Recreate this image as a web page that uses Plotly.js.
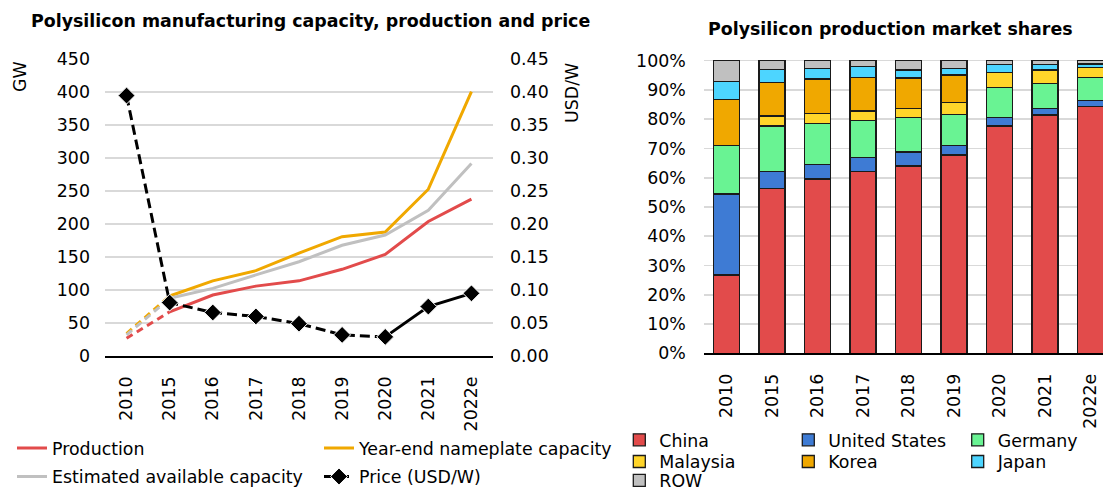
<!DOCTYPE html>
<html><head><meta charset="utf-8">
<script src="https://cdn.plot.ly/plotly-3.0.1.min.js"></script>
<style>html,body{margin:0;padding:0;background:#fff}#chart{width:1103px;height:490px}</style>
</head><body><div id="chart"></div>
<script>
// ---- data ----
const years = ['2010','2015','2016','2017','2018','2019','2020','2021','2022e'];
const production = [27, 67, 92.5, 106, 114, 131.5, 154, 204, 238];
const nameplateCapacity = [34, 91, 114, 129.5, 156, 181, 188, 253, 401];
const estimatedCapacity = [32, 87.5, 102.5, 123, 143, 168, 183.5, 221, 292];
const price = [0.395, 0.081, 0.066, 0.060, 0.049, 0.032, 0.029, 0.075, 0.095];

const shareChina    = [26.8, 56.2, 59.6, 62.2, 64.0, 67.8, 77.7, 81.4, 84.3];
const shareUS       = [27.6, 6.0, 4.9, 4.7, 4.8, 3.3, 2.9, 2.3, 2.0];
const shareGermany  = [16.7, 15.5, 14.0, 12.6, 11.8, 10.6, 10.2, 8.6, 7.9];
const shareMalaysia = [0, 3.4, 3.4, 3.3, 3.0, 4.1, 5.1, 4.5, 3.4];
const shareKorea    = [15.7, 11.5, 11.8, 11.4, 10.5, 9.3, 0, 0, 0];
const shareJapan    = [6.1, 4.4, 3.7, 3.7, 2.7, 2.3, 2.7, 2.0, 1.3];
const shareROW      = [7.1, 3.0, 2.6, 2.1, 3.2, 2.6, 1.4, 1.2, 1.1];

// ---- styling ----
const W = 1103, H = 490;
const FONT = 'DejaVu Sans, Arial, sans-serif';
const FS = 17.4;
const C = {red:'#E24B4B', orange:'#F0A800', gray:'#C0C0C0', black:'#000000',
  blue:'#3E7BD4', green:'#69F393', yellow:'#FFD52A', cyan:'#4DD5FF'};
const px = v => v / W;
const py = v => (H - v) / H;

const traces = [];
function lineSeries(name, vals, color, legendId) {
  traces.push({type:'scatter', mode:'lines', x: years.slice(0,2), y: vals.slice(0,2),
    xaxis:'x', yaxis:'y', line:{color:color, width:3, dash:'7px,5px'}, name:name,
    showlegend:false, hoverinfo:'skip'});
  traces.push({type:'scatter', mode:'lines', x: years.slice(1), y: vals.slice(1),
    xaxis:'x', yaxis:'y', line:{color:color, width:3}, name:name, legend:legendId});
}
lineSeries('Production', production, C.red, 'legend');
lineSeries('Year-end nameplate capacity', nameplateCapacity, C.orange, 'legend2');
lineSeries('Estimated available capacity', estimatedCapacity, C.gray, 'legend3');

const diamond = {symbol:'diamond', size:13, color:C.black, line:{color:'#ffffff', width:1}};
traces.push({type:'scatter', mode:'lines+markers', x: years.slice(0,7), y: price.slice(0,7),
  xaxis:'x', yaxis:'y2', line:{color:C.black, width:3, dash:'10px,5px'}, marker:diamond,
  name:'Price (USD/W)', legend:'legend4'});
traces.push({type:'scatter', mode:'lines+markers', x: years.slice(6), y: price.slice(6),
  xaxis:'x', yaxis:'y2', line:{color:C.black, width:3}, marker:diamond,
  name:'Price (USD/W)', showlegend:false});

const barSeries = [
  ['China', shareChina, C.red, 'legend5'],
  ['United States', shareUS, C.blue, 'legend6'],
  ['Germany', shareGermany, C.green, 'legend7'],
  ['Malaysia', shareMalaysia, C.yellow, 'legend8'],
  ['Korea', shareKorea, C.orange, 'legend9'],
  ['Japan', shareJapan, C.cyan, 'legend10'],
  ['ROW', shareROW, C.gray, 'legend11']
];
barSeries.forEach(([name, vals, color, lg]) => {
  traces.push({type:'bar', x: years, y: vals, xaxis:'x2', yaxis:'y3', name:name,
    marker:{color:color, line:{color:'#1a1a1a', width:1.3}}, legend:lg});
});

function legendAt(textX, yc) {
  return {x: px(textX - 40), y: py(yc), xanchor:'left', yanchor:'middle',
    orientation:'v', bgcolor:'rgba(0,0,0,0)', borderwidth:0, traceorder:'normal',
    font:{family:FONT, size:FS, color:'#000'}};
}

const tickFont = {family:FONT, size:FS, color:'#000'};
const layout = {
  width: W, height: H,
  margin: {l:0, r:0, t:0, b:0, autoexpand:false},
  paper_bgcolor:'#ffffff', plot_bgcolor:'rgba(0,0,0,0)',
  font: {family:FONT, size:FS, color:'#000'},
  barmode:'stack', bargap:0.43,
  showlegend:true,
  xaxis: {domain:[px(105), px(493)], anchor:'y', type:'category', range:[-0.5, 8.5],
    tickangle:-90, tickfont:tickFont, showgrid:false, zeroline:false,
    showline:true, linecolor:'#000', linewidth:1.5, ticks:'', ticklabelstandoff:12, fixedrange:true},
  yaxis: {domain:[py(356), py(59.3)], anchor:'x', range:[0, 450], dtick:50,
    tickfont:tickFont, showgrid:true, gridcolor:'#d9d9d9', gridwidth:1.6, zeroline:false,
    showline:false, ticks:'', ticklabelstandoff:14, fixedrange:true},
  yaxis2: {overlaying:'y', side:'right', anchor:'x', range:[0, 0.45], dtick:0.05, tickformat:'.2f',
    tickfont:tickFont, showgrid:false, zeroline:false, showline:false, ticks:'',
    ticklabelstandoff:16, fixedrange:true},
  xaxis2: {domain:[px(703.8), 1], anchor:'y3', type:'category', range:[-0.5, 8.274],
    tickangle:-90, tickfont:tickFont, showgrid:false, zeroline:false,
    showline:true, linecolor:'#000', linewidth:1.5, ticks:'', ticklabelstandoff:12, fixedrange:true},
  yaxis3: {domain:[py(353.3), py(59.5)], anchor:'x2', range:[0, 100.4], dtick:10, ticksuffix:'%',
    tickfont:tickFont, showgrid:true, gridcolor:'#d9d9d9', gridwidth:1.6, zeroline:false,
    showline:false, ticks:'', ticklabelstandoff:17, fixedrange:true},
  legend:  legendAt(52, 448.3),
  legend2: legendAt(359, 448.3),
  legend3: legendAt(52, 476.7),
  legend4: legendAt(359, 476.7),
  legend5: legendAt(659.3, 440),
  legend6: legendAt(828.3, 440),
  legend7: legendAt(997.7, 440),
  legend8: legendAt(659.3, 461.7),
  legend9: legendAt(828.3, 461.7),
  legend10: legendAt(997.7, 461.7),
  legend11: legendAt(659.3, 480.5),
  annotations: [
    {text:'Polysilicon manufacturing capacity, production and price', xref:'paper', yref:'paper',
      x: px(29), y: py(21), xanchor:'left', yanchor:'middle', showarrow:false,
      font:{family:FONT, size:FS, color:'#000', weight:'bold'}},
    {text:'Polysilicon production market shares', xref:'paper', yref:'paper',
      x: px(706), y: py(29), xanchor:'left', yanchor:'middle', showarrow:false,
      font:{family:FONT, size:FS, color:'#000', weight:'bold'}},
    {text:'GW', xref:'paper', yref:'paper', x: px(20), y: py(77), xanchor:'center', yanchor:'middle',
      textangle:-90, showarrow:false, font:{family:FONT, size:FS, color:'#000'}},
    {text:'USD/W', xref:'paper', yref:'paper', x: px(572), y: py(93), xanchor:'center', yanchor:'middle',
      textangle:-90, showarrow:false, font:{family:FONT, size:FS, color:'#000'}}
  ]
};

Plotly.newPlot('chart', traces, layout, {displayModeBar:false, staticPlot:true});
</script></body></html>
